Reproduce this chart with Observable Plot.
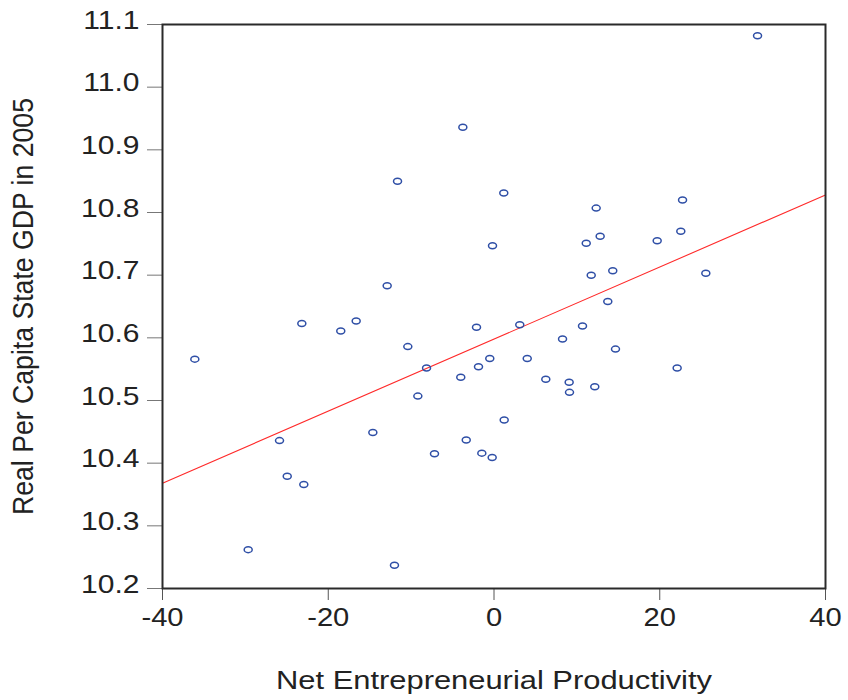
<!DOCTYPE html>
<html><head><meta charset="utf-8">
<script src="https://cdn.jsdelivr.net/npm/d3@7"></script>
<script src="https://cdn.jsdelivr.net/npm/@observablehq/plot@0.6"></script>
<style>body{margin:0;background:#fff} svg{display:block}</style>
</head><body><div id="chart"></div>
<script>
// Net Entrepreneurial Productivity (x) and log real per-capita state GDP 2005 (y)
const npx = [31.8, -3.76, -11.64, 1.18, 22.75, 12.33, 22.54, 12.81, 19.69, 11.13,
  -0.18, 14.33, 25.56, 11.73, -12.89, 13.73, -23.19, -16.63, -18.49, -2.11,
  3.11, 10.68, -36.10, -10.40, 8.27, 14.66, -8.14, -0.51, 4.01, -1.87,
  22.1, -4.01, 6.25, 9.07, 12.16, 9.11, -9.19, 1.23, -14.62, -25.88,
  -3.35, -7.18, -1.47, -0.22, -24.95, -22.95, -29.66, -12.01];
const gdp = [11.082, 10.936, 10.850, 10.831, 10.820, 10.807, 10.770, 10.762, 10.755, 10.751,
  10.747, 10.707, 10.703, 10.700, 10.683, 10.658, 10.623, 10.627, 10.611, 10.617,
  10.621, 10.619, 10.566, 10.586, 10.598, 10.582, 10.552, 10.567, 10.567, 10.554,
  10.552, 10.537, 10.534, 10.529, 10.522, 10.513, 10.507, 10.469, 10.449, 10.436,
  10.437, 10.415, 10.416, 10.409, 10.379, 10.366, 10.262, 10.237];
// fitted regression line, read at the frame edges
const fitX = [-40, 40];
const fitY = [10.368, 10.828];
const xTicks = [-40, -20, 0, 20, 40];
const yTicks = [10.2, 10.3, 10.4, 10.5, 10.6, 10.7, 10.8, 10.9, 11.0, 11.1];
const xTitle = "Net Entrepreneurial Productivity";
const yTitle = "Real Per Capita State GDP in 2005";

const points = npx.map((x, i) => ({x, y: gdp[i]}));
const fit = fitX.map((x, i) => ({x, y: fitY[i]}));

// small open ellipse marker
const ellipse = {
  draw(ctx) {
    const rx = 4, ry = 3, k = 0.5523;
    ctx.moveTo(rx, 0);
    ctx.bezierCurveTo(rx, ry * k, rx * k, ry, 0, ry);
    ctx.bezierCurveTo(-rx * k, ry, -rx, ry * k, -rx, 0);
    ctx.bezierCurveTo(-rx, -ry * k, -rx * k, -ry, 0, -ry);
    ctx.bezierCurveTo(rx * k, -ry, rx, -ry * k, rx, 0);
    ctx.closePath();
  }
};

const chart = Plot.plot({
  width: 848, height: 700,
  marginLeft: 162, marginRight: 23, marginTop: 24, marginBottom: 112,
  style: {fontFamily: "'Liberation Sans', Arial, sans-serif", background: "#fff", color: "#222"},
  x: {domain: [-40, 40]},
  y: {domain: [10.2, 11.1]},
  marks: [
    Plot.axisX({ticks: xTicks, tickSize: 12, tickPadding: 7, fontSize: 26, stroke: "#555",
      tickFormat: d => String(d),
      label: xTitle, labelAnchor: "center", labelOffset: 100, labelArrow: "none"}),
    Plot.axisY({ticks: yTicks, tickSize: 15, tickPadding: 8, fontSize: 25, stroke: "#777",
      tickFormat: d3.format(".1f"),
      label: yTitle, labelAnchor: "center", labelOffset: 150, labelArrow: "none"}),
    Plot.line(fit, {x: "x", y: "y", stroke: "#ff2a2a", strokeWidth: 1.1}),
    Plot.dot(points, {x: "x", y: "y", symbol: ellipse, r: 4, stroke: "#2f4fa6", strokeWidth: 1.5, fill: "none"}),
    Plot.frame({stroke: "#2a2a2a", strokeWidth: 2})
  ]
});
document.getElementById("chart").append(chart);

function stretch(sel, fs, factor, fixedLen, dy) {
  chart.querySelectorAll(sel).forEach(t => {
    t.setAttribute("font-size", fs);
    if (dy != null) t.setAttribute("dy", dy);
    const len = t.getComputedTextLength();
    t.setAttribute("textLength", fixedLen != null ? fixedLen : len * factor);
    t.setAttribute("lengthAdjust", "spacingAndGlyphs");
  });
}
stretch('g[aria-label="x-axis tick label"] text', 26, 1.12);
stretch('g[aria-label="y-axis tick label"] text', 25, 1.2, null, "-0.16em");
stretch('g[aria-label="x-axis label"] text', 25, 1, 436);
stretch('g[aria-label="y-axis label"] text', 29, 1, 417);
</script>
</body></html>
